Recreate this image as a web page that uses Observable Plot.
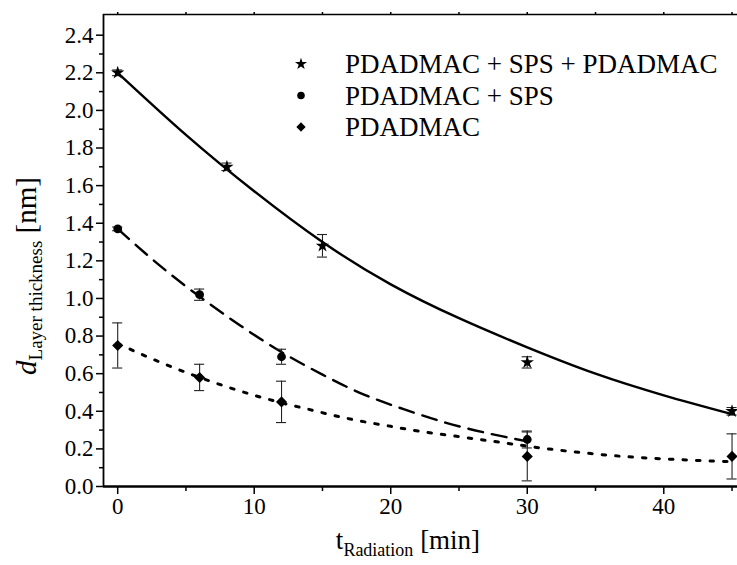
<!DOCTYPE html>
<html>
<head>
<meta charset="utf-8">
<script src="https://cdn.jsdelivr.net/npm/d3@7"></script>
<script src="https://cdn.jsdelivr.net/npm/@observablehq/plot@0.6"></script>
<style>
  html, body { margin: 0; padding: 0; background: white; }
  #chart svg { display: block; }
</style>
</head>
<body>
<div id="chart"></div>
<script>
// ---- data ----
const seriesNames = ["PDADMAC + SPS + PDADMAC", "PDADMAC + SPS", "PDADMAC"];
const seriesSymbols = ["star", "circle", "diamond2"];

// measured points (t in min, thickness in nm, error in nm)
const tStar = [0, 8, 15, 30, 45];
const vStar = [2.20, 1.70, 1.28, 0.66, 0.40];
const eStar = [0.015, 0.02, 0.06, 0.03, 0.02];

const tCircle = [0, 6, 12, 30];
const vCircle = [1.37, 1.02, 0.69, 0.25];
const eCircle = [0.01, 0.03, 0.04, 0.045];

const tDiamond = [0, 6, 12, 30, 45];
const vDiamond = [0.75, 0.58, 0.45, 0.16, 0.16];
const eDiamond = [0.12, 0.07, 0.11, 0.13, 0.12];

// fitted curves
const fitStarT = [0, 5, 10, 15, 20, 25, 30, 35, 40, 45];
const fitStarV = [2.20, 1.87, 1.57, 1.30, 1.075, 0.895, 0.74, 0.60, 0.485, 0.385];

const fitCircleT = [0, 3, 6, 9, 12, 15, 18, 21, 24, 27, 30];
const fitCircleV = [1.37, 1.18, 1.01, 0.855, 0.715, 0.595, 0.49, 0.41, 0.34, 0.285, 0.24];

const fitDiamondT = [0, 2, 4, 6, 8, 10, 12, 14, 16, 18, 20, 22, 25, 28, 31, 34, 37, 40, 43, 45];
const fitDiamondV = [0.76, 0.695, 0.635, 0.58, 0.53, 0.485, 0.445, 0.41, 0.375, 0.345, 0.32, 0.295, 0.265, 0.235, 0.205, 0.18, 0.16, 0.147, 0.137, 0.132];

// axes
const xDomain = [-1.04, 45.4];
const yDomain = [0, 2.51];
const xMajorTicks = [0, 10, 20, 30, 40];
const xMinorTicks = [5, 15, 25, 35, 45];
const xTopTicks = [0, 5, 10, 15, 20, 25, 30, 35, 40, 45];
const yMajorTicks = [0, 0.2, 0.4, 0.6, 0.8, 1.0, 1.2, 1.4, 1.6, 1.8, 2.0, 2.2, 2.4];
const yMinorTicks = [0.1, 0.3, 0.5, 0.7, 0.9, 1.1, 1.3, 1.5, 1.7, 1.9, 2.1, 2.3];

// ---- build tables ----
const zip = (t, v, e) => t.map((d, i) => ({t: d, v: v[i], e: e ? e[i] : 0}));
const star = zip(tStar, vStar, eStar);
const circ = zip(tCircle, vCircle, eCircle);
const diam = zip(tDiamond, vDiamond, eDiamond);
const allPts = [...star, ...circ, ...diam];
const fitStar = zip(fitStarT, fitStarV);
const fitCirc = zip(fitCircleT, fitCircleV);
const fitDiam = zip(fitDiamondT, fitDiamondV);

const capHalf = 0.37;
const ink = "#000";
const serif = "'Liberation Serif', 'DejaVu Serif', serif";

const chart = Plot.plot({
  width: 737,
  height: 565,
  marginLeft: 103,
  marginRight: 0,
  marginTop: 14,
  marginBottom: 79,
  x: {domain: xDomain},
  y: {domain: yDomain},
  style: {fontFamily: serif, fontSize: "23px", color: "black", background: "white", overflow: "visible"},
  marks: [
    // axes
    Plot.axisY({ticks: yMajorTicks, tickSize: 7, tickPadding: 3, tickFormat: d => d.toFixed(1), label: null, fontSize: 23, strokeWidth: 1.5}),
    Plot.axisY({ticks: yMinorTicks, tickSize: 4, tickFormat: () => "", label: null, strokeWidth: 1.5}),
    Plot.axisX({ticks: xMajorTicks, tickSize: 8, tickPadding: 3, tickFormat: d => String(d), label: null, fontSize: 23, strokeWidth: 1.5}),
    Plot.axisX({ticks: xMinorTicks, tickSize: 5, tickFormat: () => "", label: null, strokeWidth: 1.5}),
    Plot.axisX({anchor: "top", ticks: xTopTicks, tickSize: 3, tickFormat: () => "", label: null, strokeWidth: 1.5}),
    Plot.ruleY([yDomain[0]], {stroke: ink, strokeWidth: 2.4}),
    Plot.ruleY([yDomain[1]], {stroke: ink, strokeWidth: 1.6}),
    Plot.ruleX([xDomain[0]], {stroke: ink, strokeWidth: 1.8}),

    // fitted curves
    Plot.line(fitStar, {x: "t", y: "v", curve: "natural", stroke: ink, strokeWidth: 2.4}),
    Plot.line(fitCirc, {x: "t", y: "v", curve: "natural", stroke: ink, strokeWidth: 2.4, strokeDasharray: "15,9"}),
    Plot.line(fitDiam, {x: "t", y: "v", curve: "natural", stroke: ink, strokeWidth: 3, strokeDasharray: "3.5,10"}),

    // error bars
    Plot.ruleX(allPts, {x: "t", y1: d => d.v - d.e, y2: d => d.v + d.e, stroke: "#222", strokeWidth: 1.1}),
    Plot.ruleY(allPts, {y: d => d.v + d.e, x1: d => d.t - capHalf, x2: d => d.t + capHalf, stroke: "#222", strokeWidth: 1.1}),
    Plot.ruleY(allPts, {y: d => d.v - d.e, x1: d => d.t - capHalf, x2: d => d.t + capHalf, stroke: "#222", strokeWidth: 1.1}),

    // markers
    Plot.dot(star, {x: "t", y: "v", symbol: seriesSymbols[0], r: 4.2, fill: ink, stroke: null}),
    Plot.dot(circ, {x: "t", y: "v", symbol: seriesSymbols[1], r: 4.4, fill: ink, stroke: null}),
    Plot.dot(diam, {x: "t", y: "v", symbol: seriesSymbols[2], r: 5.0, fill: ink, stroke: null})
  ]
});

document.getElementById("chart").appendChild(chart);

// ---- titles with subscripts and the legend ----
const svg = d3.select(chart);

const yt = svg.append("text")
  .attr("transform", "translate(36,276) rotate(-90)")
  .attr("text-anchor", "middle")
  .attr("fill", "black");
yt.append("tspan").attr("font-size", 29).attr("font-style", "italic").text("d");
yt.append("tspan").attr("font-size", 19).attr("dy", 6).text("Layer thickness");
yt.append("tspan").attr("font-size", 29).attr("dy", -6).text(" [nm]");

const xt = svg.append("text")
  .attr("x", 408)
  .attr("y", 549)
  .attr("text-anchor", "middle")
  .attr("fill", "black");
xt.append("tspan").attr("font-size", 27).text("t");
xt.append("tspan").attr("font-size", 18).attr("dy", 7).text("Radiation");
xt.append("tspan").attr("font-size", 27).attr("dy", -7).text(" [min]");

const symMap = {star: d3.symbolStar, circle: d3.symbolCircle, diamond2: d3.symbolDiamond2};
const symSize = {star: 45, circle: 45, diamond2: 55};
const leg = svg.append("g");
seriesNames.forEach((name, i) => {
  const cy = 64 + i * 31.5;
  leg.append("path")
    .attr("transform", `translate(301,${cy})`)
    .attr("d", d3.symbol(symMap[seriesSymbols[i]], symSize[seriesSymbols[i]])())
    .attr("fill", "black");
  leg.append("text")
    .attr("x", 345)
    .attr("y", cy + 9)
    .attr("text-anchor", "start")
    .attr("font-size", 27)
    .attr("fill", "black")
    .text(name);
});

svg.selectAll("text").attr("font-family", serif);
</script>
</body>
</html>
